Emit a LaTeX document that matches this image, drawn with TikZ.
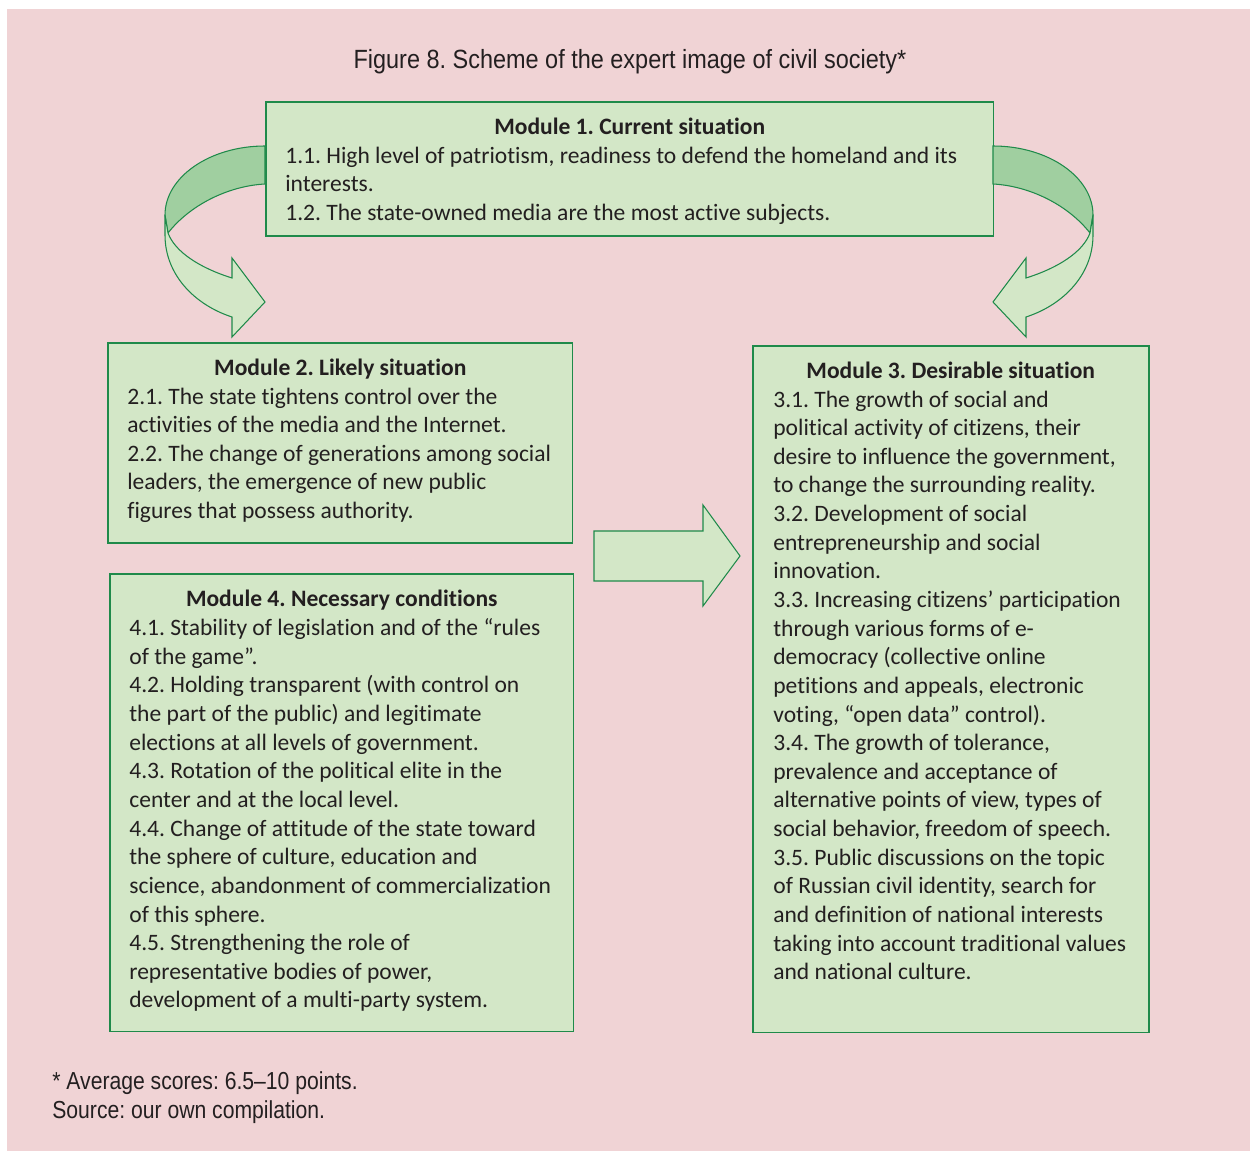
\documentclass[tikz,border=0pt]{standalone}
\usepackage{fontspec}
\setmainfont{Carlito}[RawFeature={-liga;-clig;-dlig}]
\newfontfamily\titlefont{Liberation Sans}[FakeStretch=0.89]
\newfontfamily\notefont{Liberation Sans}[FakeStretch=0.86]
\frenchspacing

\definecolor{backpink}{HTML}{F0D3D5}
\definecolor{boxgreen}{HTML}{D3E7C7}
\definecolor{bandgreen}{HTML}{A0CFA0}
\definecolor{edgegreen}{HTML}{1F8A4A}
\definecolor{inkgray}{HTML}{231F20}

\tikzset{
    module/.style = {
        draw=edgegreen,
        fill=boxgreen,
        line width=0.9pt,
        inner sep=0pt,
        anchor=north west
    },
    heading/.style = {
        anchor=base,
        inner sep=0pt,
        text=inkgray,
        font=\fontsize{13.4}{16.3}\selectfont\bfseries
    },
    entries/.style = {
        anchor=north west,
        inner sep=0pt,
        align=left,
        text=inkgray,
        font=\fontsize{13.4}{16.3}\selectfont,
        execute at begin node=\strut
    },
    caption/.style = {
        inner sep=0pt,
        align=left,
        text=inkgray
    },
    arrowback/.style = {
        fill=bandgreen,
        draw=edgegreen,
        line width=0.6pt
    },
    arrowfront/.style = {
        fill=boxgreen,
        draw=edgegreen,
        line width=0.6pt
    },
    pics/bentarrow/.style = {
        code = {
            \path[arrowback] (265,146) .. controls (210,146) and (165,177) .. (165,215)
                -- (168,233) .. controls (190,205) and (228,186) .. (265,184) -- cycle;
            \path[arrowfront] (165,215) -- (165,235) .. controls (165,275) and (195,305) .. (232,317)
                -- (232,337) -- (265,302) -- (232,258) -- (232,278)
                .. controls (200,268) and (175,252) .. (168,233) -- cycle;
        }
    }
}

\begin{document}
\begin{tikzpicture}[x=0.02cm, y=-0.02cm]
    \useasboundingbox (0,0) rectangle (1250,1151);
    \fill[backpink] (7,9) rectangle (1250,1151);

    % Title
    \node[caption, anchor=base, font=\titlefont\fontsize{15}{18}\selectfont] (title) at (630,69)
        {Figure 8. Scheme of the expert image of civil society*};

    % Draw all modules
    \node[module, minimum width=14.56cm, minimum height=2.68cm] (m1) at (265,101) {};
    \node[module, minimum width=9.30cm, minimum height=4.00cm] (m2) at (107,342) {};
    \node[module, minimum width=7.92cm, minimum height=13.74cm] (m3) at (752,345) {};
    \node[module, minimum width=9.28cm, minimum height=9.16cm] (m4) at (109,573) {};

    \node[heading] (m1title) at ([yshift=-0.68cm]m1.north) {Module 1. Current situation};
    \node[entries] (m1text) at ([xshift=0.4cm, yshift=-25.8pt]m1.north west)
        {1.1. High level of patriotism, readiness to defend the homeland and its\\
         interests.\\
         1.2. The state-owned media are the most active subjects.};

    \node[heading] (m2title) at ([yshift=-0.68cm]m2.north) {Module 2. Likely situation};
    \node[entries] (m2text) at ([xshift=0.4cm, yshift=-25.8pt]m2.north west)
        {2.1. The state tightens control over the\\
         activities of the media and the Internet.\\
         2.2. The change of generations among social\\
         leaders, the emergence of new public\\
         figures that possess authority.};

    \node[heading] (m3title) at ([yshift=-0.68cm]m3.north) {Module 3. Desirable situation};
    \node[entries] (m3text) at ([xshift=0.42cm, yshift=-25.8pt]m3.north west)
        {3.1. The growth of social and\\
         political activity of citizens, their\\
         desire to influence the government,\\
         to change the surrounding reality.\\
         3.2. Development of social\\
         entrepreneurship and social\\
         innovation.\\
         3.3. Increasing citizens’ participation\\
         through various forms of e-\\
         democracy (collective online\\
         petitions and appeals, electronic\\
         voting, “open data” control).\\
         3.4. The growth of tolerance,\\
         prevalence and acceptance of\\
         alternative points of view, types of\\
         social behavior, freedom of speech.\\
         3.5. Public discussions on the topic\\
         of Russian civil identity, search for\\
         and definition of national interests\\
         taking into account traditional values\\
         and national culture.};

    \node[heading] (m4title) at ([yshift=-0.68cm]m4.north) {Module 4. Necessary conditions};
    \node[entries] (m4text) at ([xshift=0.4cm, yshift=-25.8pt]m4.north west)
        {4.1. Stability of legislation and of the “rules\\
         of the game”.\\
         4.2. Holding transparent (with control on\\
         the part of the public) and legitimate\\
         elections at all levels of government.\\
         4.3. Rotation of the political elite in the\\
         center and at the local level.\\
         4.4. Change of attitude of the state toward\\
         the sphere of culture, education and\\
         science, abandonment of commercialization\\
         of this sphere.\\
         4.5. Strengthening the role of\\
         representative bodies of power,\\
         development of a multi-party system.};

    % Draw arrows
    \pic {bentarrow};
    \pic[xscale=-1] at (1258,0) {bentarrow};
    \path[arrowfront] (594,531) -- (703,531) -- (703,505) -- (740,556)
        -- (703,606) -- (703,581) -- (594,581) -- cycle;

    % Notes
    \node[caption, anchor=north west, font=\notefont\fontsize{14}{16.4}\selectfont,
          execute at begin node=\strut] (notes) at ([yshift=9.8pt]52,1089)
        {* Average scores: 6.5–10 points.\\
         Source: our own compilation.};
\end{tikzpicture}
\end{document}
